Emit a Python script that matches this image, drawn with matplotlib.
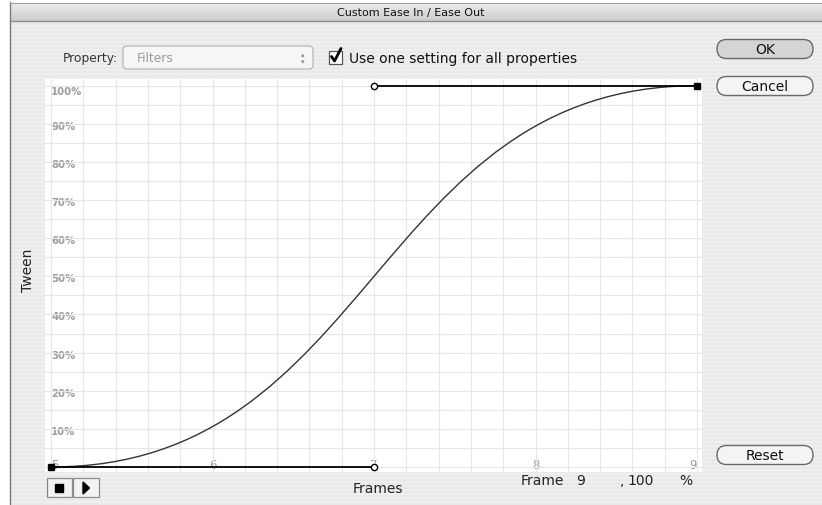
import numpy as np
import matplotlib.pyplot as plt
from matplotlib.path import Path
from matplotlib.patches import PathPatch, FancyBboxPatch, Rectangle, Polygon
from matplotlib.ticker import MultipleLocator

# x axis: frames, y axis: tween percent
frames = [5, 6, 7, 8, 9]
tween_ticks = [10, 20, 30, 40, 50, 60, 70, 80, 90, 100]

# ease curve = two anchors plus their bezier handles (frame, percent)
anchor_frames = [5, 9]
anchor_tween = [0, 100]
handle_frames = [7, 7]
handle_tween = [0, 100]

# readout under the graph
current_frame = 9
current_tween = 100

W, H = 822, 506
fig = plt.figure(figsize=(W / 100, H / 100), dpi=100)

# pixel-space layer for the dialog chrome
ui = fig.add_axes([0, 0, 1, 1])
rows = np.arange(H)
stripe = np.where((rows // 2) % 2 == 0, 0.912, 0.937)
ui.imshow(np.tile(stripe[:, None], (1, W)), cmap="gray", vmin=0, vmax=1,
          extent=(0, W, H, 0), aspect="auto", interpolation="nearest")

ui.add_patch(Rectangle((0, 0), 9, H, color="white"))
ui.add_patch(Rectangle((0, 0), W, 3, color="white"))
ui.plot([9.5, 9.5], [3, H], color="#7a7a7a", lw=1)

# title bar
grad = np.linspace(0.93, 0.80, 20)[:, None]
ui.imshow(grad, cmap="gray", vmin=0, vmax=1, extent=(10, W, 22, 3),
          aspect="auto", interpolation="bilinear")
ui.plot([10, W], [22, 22], color="#8a8a8a", lw=1)
ui.plot([10, W], [3.5, 3.5], color="#a0a0a0", lw=0.8)
ui.text(411, 12.5, "Custom Ease In / Ease Out", ha="center", va="center",
        fontsize=8, color="#111111")
ui.set_xlim(0, W)
ui.set_ylim(H, 0)
ui.axis("off")

# property row
ui.text(118, 58.5, "Property:", ha="right", va="center", fontsize=8.8, color="#333333")
ui.add_patch(FancyBboxPatch((123, 47), 190, 23, boxstyle="round,pad=0,rounding_size=4",
                            fc="#f6f6f6", ec="#b0b0b0", lw=0.8))
ui.text(137, 58.5, "Filters", ha="left", va="center", fontsize=8.8, color="#9a9a9a")
ui.text(303, 55, "\u25b4", ha="center", va="center", fontsize=5, color="#8a8a8a")
ui.text(303, 62, "\u25be", ha="center", va="center", fontsize=5, color="#8a8a8a")
ui.add_patch(Rectangle((329, 51.5), 13, 13, fc="white", ec="#555555", lw=0.9))
ui.plot([331.5, 334.5, 341], [57.5, 62, 49.5], color="black", lw=2.0,
        solid_capstyle="round", solid_joinstyle="round")
ui.text(349, 58.5, "Use one setting for all properties", ha="left", va="center",
        fontsize=10, color="#111111")

# buttons
for label, yc, face in [("OK", 50, "#d4d4d4"), ("Cancel", 87, "#f4f4f4"), ("Reset", 456, "#f4f4f4")]:
    ui.add_patch(FancyBboxPatch((717, yc - 9.5), 96, 19, boxstyle="round,pad=0,rounding_size=9.5",
                                fc=face, ec="#6a6a6a", lw=1))
    ui.text(765, yc, label, ha="center", va="center", fontsize=10, color="#111111")

# stop / play
ui.add_patch(Rectangle((46.5, 479), 25, 19, fc="#f2f2f2", ec="#8a8a8a", lw=0.9))
ui.add_patch(Rectangle((55, 485), 8, 8, fc="black", ec="black"))
ui.add_patch(Rectangle((72.5, 479), 26, 19, fc="#f2f2f2", ec="#8a8a8a", lw=0.9))
ui.add_patch(Polygon([(83, 483), (83, 495), (89.5, 489)], closed=True, fc="black", ec="black"))

txt = dict(va="center", fontsize=10, color="#222222")
ui.text(378, 489, "Frames", ha="center", **txt)
ui.text(28, 270, "Tween", ha="center", rotation=90, **txt)
ui.text(521, 481.5, "Frame", ha="left", **txt)
ui.text(581, 481.5, str(current_frame), ha="center", **txt)
ui.text(622, 481.5, ",", ha="center", **txt)
ui.text(627, 481.5, str(current_tween), ha="left", **txt)
ui.text(686, 481.5, "%", ha="center", **txt)

# graph area (white)
px_frame = (697 - 51) / 4
px_pct = (468 - 86.7) / 100
ax = fig.add_axes([45 / W, (H - 473) / H, (702 - 45) / W, (473 - 80) / H])
ax.set_facecolor("white")
ax.set_xlim(frames[0] - (51 - 45) / px_frame, frames[-1] + (702 - 697) / px_frame)
ax.set_ylim(0 - (473 - 468) / px_pct, 100 + (86.7 - 80) / px_pct)
ax.xaxis.set_major_locator(MultipleLocator(0.2))
ax.yaxis.set_major_locator(MultipleLocator(5))
ax.grid(True, color="#e6e6e6", lw=0.8)
ax.tick_params(length=0, labelbottom=False, labelleft=False)
for s in ax.spines.values():
    s.set_visible(False)

for v in tween_ticks:
    ax.text(frames[0], min(v, 99) - 0.5, f"{v}%", ha="left", va="center",
            fontsize=7.3, fontweight="bold", color="#9c9c9c", zorder=1)
for i, f in enumerate(frames):
    ha = "left" if i == 0 else ("right" if i == len(frames) - 1 else "center")
    ax.text(f, 0.6, str(f), ha=ha, va="center", fontsize=8.5, color="#9c9c9c", zorder=1)

verts = [(anchor_frames[0], anchor_tween[0]), (handle_frames[0], handle_tween[0]),
         (handle_frames[1], handle_tween[1]), (anchor_frames[1], anchor_tween[1])]
codes = [Path.MOVETO, Path.CURVE4, Path.CURVE4, Path.CURVE4]
ax.add_patch(PathPatch(Path(verts, codes), fc="none", ec="#333333", lw=1.0, zorder=3))

for i in range(len(anchor_frames)):
    ax.plot([anchor_frames[i], handle_frames[i]], [anchor_tween[i], handle_tween[i]],
            color="black", lw=1.3, zorder=4, clip_on=False)
ax.plot(anchor_frames, anchor_tween, "s", ms=5, color="black", zorder=5, clip_on=False)
ax.plot(handle_frames, handle_tween, "o", ms=4.5, mfc="white", mec="black", mew=1,
        zorder=5, clip_on=False)

fig.savefig("out.png", dpi=100)
